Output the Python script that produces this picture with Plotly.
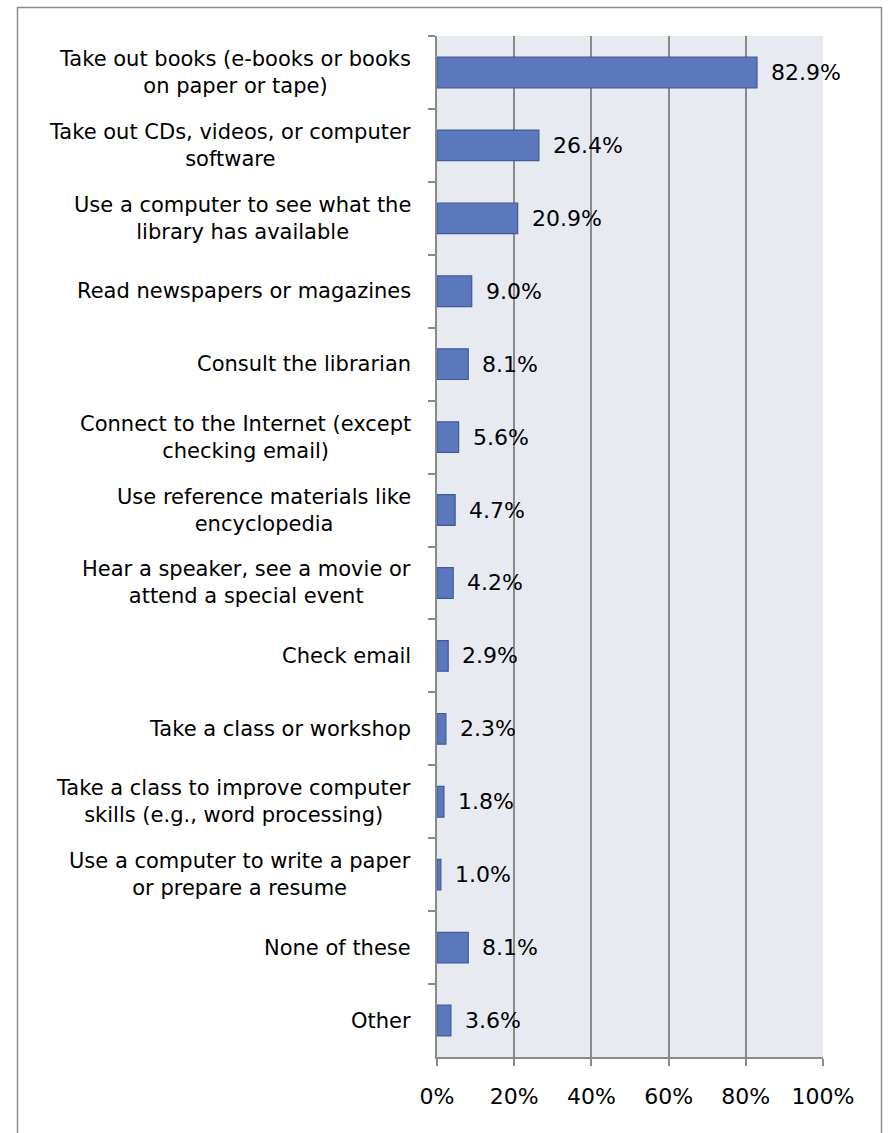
import plotly.graph_objects as go

categories = [
    "Take out books (e-books or books<br>on paper or tape)",
    "Take out CDs, videos, or computer<br>software",
    "Use a computer to see what the<br>library has available",
    "Read newspapers or magazines",
    "Consult the librarian",
    "Connect to the Internet (except<br>checking email)",
    "Use reference materials like<br>encyclopedia",
    "Hear a speaker, see a movie or<br>attend a special event",
    "Check email",
    "Take a class or workshop",
    "Take a class to improve computer<br>skills (e.g., word processing)",
    "Use a computer to write a paper<br>or prepare a resume",
    "None of these",
    "Other",
]
values = [82.9, 26.4, 20.9, 9.0, 8.1, 5.6, 4.7, 4.2, 2.9, 2.3, 1.8, 1.0, 8.1, 3.6]
x_ticks = [0, 20, 40, 60, 80, 100]
x_tick_labels = ["0%", "20%", "40%", "60%", "80%", "100%"]

W, H = 888, 1133
FONT = "DejaVu Sans"
x0, x1 = 437, 823
y_top, y_bot = 36, 1057

fig = go.Figure()
fig.add_trace(go.Bar(
    x=values,
    y=categories,
    orientation="h",
    marker=dict(color="#5B78BD", line=dict(color="#3E5A98", width=1.2)),
    width=0.42,
    hoverinfo="skip",
))

annotations = []
# value labels to the right of each bar
for c, v in zip(categories, values):
    annotations.append(dict(
        x=v, y=c, xref="x", yref="y", text=f"{v:.1f}%",
        showarrow=False, xanchor="left", yanchor="middle", xshift=12,
        font=dict(family=FONT, size=22, color="#000000"),
    ))
# category labels, centre-aligned lines, right edge left of the axis
for c in categories:
    annotations.append(dict(
        x=413 / W, y=c, xref="paper", yref="y", text=c,
        showarrow=False, xanchor="right", yanchor="middle", align="center",
        font=dict(family=FONT, size=21, color="#000000"),
    ))

fig.update_layout(
    template="none",
    width=W, height=H,
    autosize=False,
    margin=dict(l=0, r=0, t=0, b=0, pad=0),
    paper_bgcolor="#FFFFFF",
    plot_bgcolor="#E8EAF2",
    showlegend=False,
    annotations=annotations,
    shapes=[dict(
        type="rect", xref="paper", yref="paper",
        x0=17.5 / W, x1=881.5 / W, y0=-0.05, y1=1 - 7.5 / H,
        line=dict(color="#8C8C8C", width=1.5), fillcolor="rgba(0,0,0,0)",
        layer="below",
    )],
    xaxis=dict(
        domain=[x0 / W, x1 / W],
        range=[0, 100],
        automargin=False,
        tickvals=x_ticks, ticktext=x_tick_labels,
        showgrid=True, gridcolor="#8A8A8A", gridwidth=1.5,
        zeroline=False,
        showline=True, linecolor="#8A8A8A", linewidth=1.5,
        ticks="outside", ticklen=7, tickcolor="#8A8A8A", tickwidth=1.5,
        ticklabelstandoff=12,
        tickfont=dict(family=FONT, size=22, color="#000000"),
        fixedrange=True,
    ),
    yaxis=dict(
        domain=[1 - y_bot / H, 1 - y_top / H],
        categoryorder="array", categoryarray=categories,
        autorange="reversed",
        automargin=False,
        showticklabels=False,
        showgrid=False, zeroline=False,
        showline=True, linecolor="#8A8A8A", linewidth=1.5,
        ticks="outside", ticklen=7, tickcolor="#8A8A8A", tickwidth=1.5,
        tickson="boundaries",
        fixedrange=True,
    ),
)

fig.write_html("out.html")
